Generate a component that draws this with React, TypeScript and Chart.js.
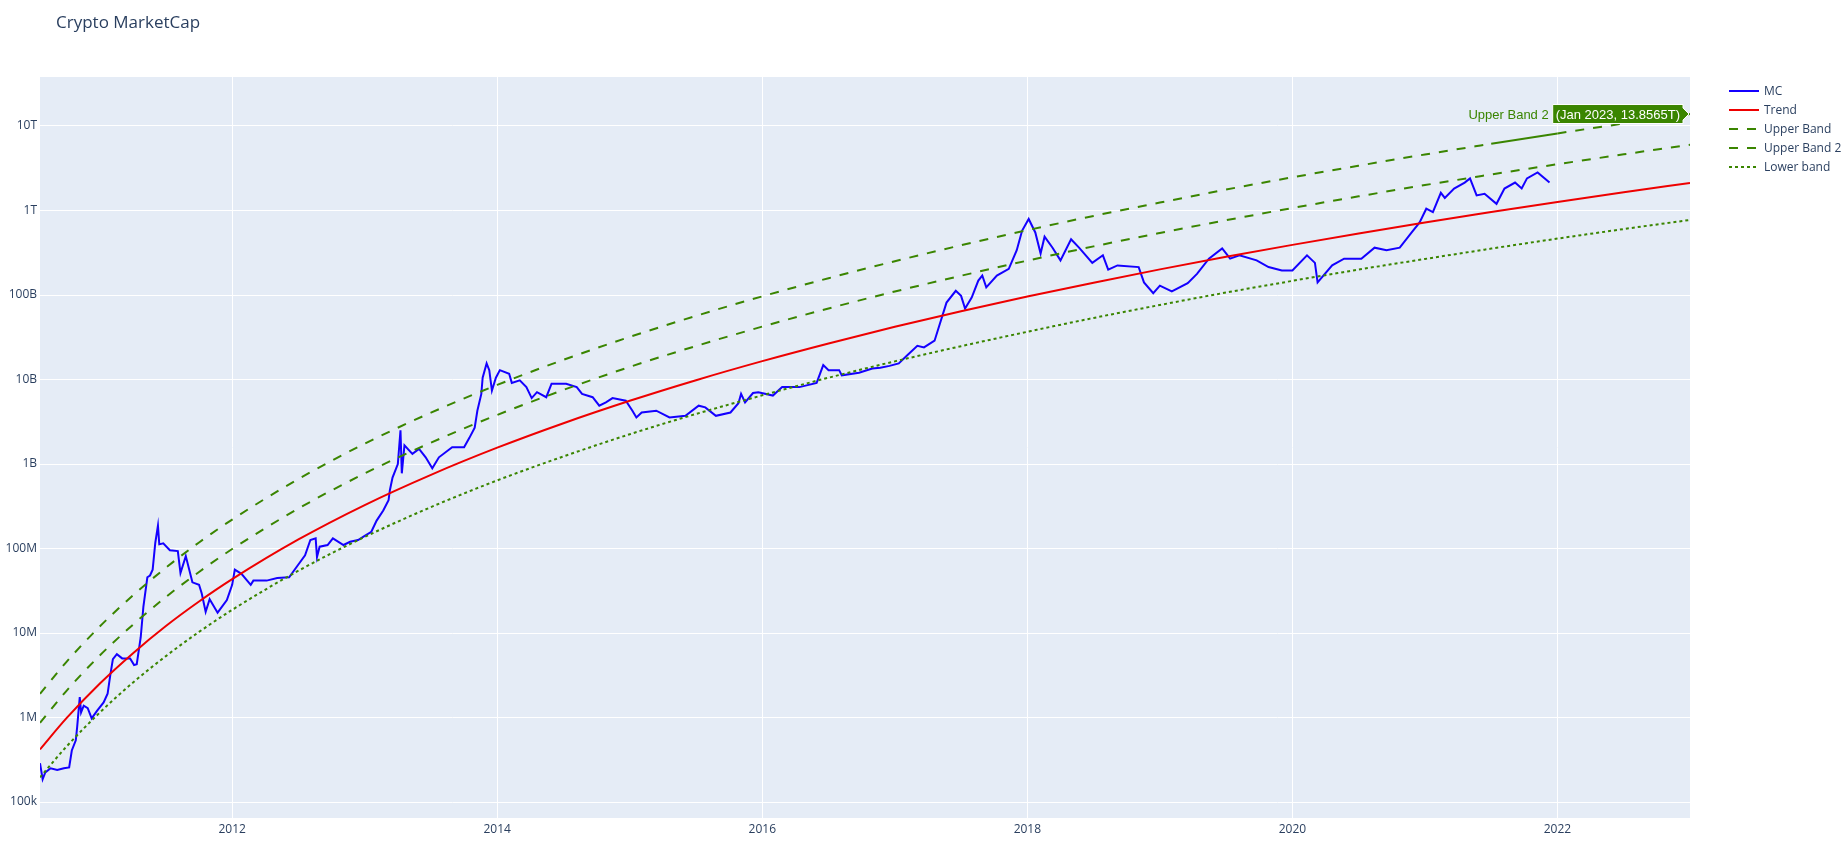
import { useEffect, useRef } from "react";
import { Chart, registerables } from "chart.js";

Chart.register(...registerables);

// total crypto market cap (decimal years)
const mcYears = [
  2010.55, 2010.57, 2010.59, 2010.63, 2010.68, 2010.73, 2010.77, 2010.79, 2010.82, 2010.83,
  2010.85, 2010.86, 2010.88, 2010.91, 2010.94, 2010.98, 2011.03, 2011.06, 2011.08, 2011.10,
  2011.13, 2011.17, 2011.23, 2011.26, 2011.28, 2011.31, 2011.33, 2011.36, 2011.38, 2011.40,
  2011.42, 2011.44, 2011.45, 2011.48, 2011.53, 2011.59, 2011.61, 2011.65, 2011.70, 2011.75,
  2011.77, 2011.80, 2011.83, 2011.89, 2011.96, 2012.00, 2012.02, 2012.07, 2012.14, 2012.16,
  2012.26, 2012.34, 2012.43, 2012.49, 2012.55, 2012.59, 2012.63, 2012.64, 2012.66, 2012.72,
  2012.76, 2012.84, 2012.89, 2012.95, 2013.00, 2013.05, 2013.09, 2013.14, 2013.18, 2013.19,
  2013.21, 2013.25, 2013.27, 2013.28, 2013.30, 2013.36, 2013.41, 2013.46, 2013.51, 2013.56,
  2013.66, 2013.75, 2013.79, 2013.83, 2013.85, 2013.88, 2013.89, 2013.92, 2013.94, 2013.96,
  2013.99, 2014.02, 2014.09, 2014.11, 2014.17, 2014.22, 2014.26, 2014.30, 2014.37, 2014.41,
  2014.52, 2014.60, 2014.64, 2014.72, 2014.77, 2014.82, 2014.87, 2014.97, 2015.02, 2015.05,
  2015.09, 2015.20, 2015.30, 2015.42, 2015.52, 2015.57, 2015.65, 2015.76, 2015.82, 2015.84,
  2015.87, 2015.93, 2015.97, 2016.08, 2016.15, 2016.28, 2016.41, 2016.46, 2016.50, 2016.58,
  2016.60, 2016.73, 2016.83, 2016.89, 2016.96, 2017.03, 2017.09, 2017.17, 2017.22, 2017.30,
  2017.34, 2017.39, 2017.46, 2017.50, 2017.53, 2017.58, 2017.63, 2017.66, 2017.69, 2017.77,
  2017.86, 2017.92, 2017.96, 2018.01, 2018.06, 2018.10, 2018.13, 2018.19, 2018.25, 2018.33,
  2018.39, 2018.49, 2018.57, 2018.61, 2018.68, 2018.84, 2018.88, 2018.95, 2019.00, 2019.09,
  2019.21, 2019.28, 2019.37, 2019.47, 2019.53, 2019.60, 2019.73, 2019.82, 2019.92, 2020.00,
  2020.11, 2020.17, 2020.19, 2020.30, 2020.39, 2020.52, 2020.62, 2020.71, 2020.81, 2020.90,
  2020.96, 2021.01, 2021.06, 2021.12, 2021.15, 2021.22, 2021.30, 2021.34, 2021.39, 2021.45,
  2021.54, 2021.60, 2021.68, 2021.73, 2021.77, 2021.85, 2021.94,
];
const mcValues = [
  2.88e5, 1.86e5, 2.24e5, 2.51e5, 2.4e5, 2.51e5, 2.57e5, 4.07e5, 5.37e5, 7.59e5,
  1.74e6, 1.15e6, 1.38e6, 1.29e6, 9.77e5, 1.2e6, 1.51e6, 1.91e6, 3.16e6, 4.9e6,
  5.62e6, 5.01e6, 5.01e6, 4.17e6, 4.27e6, 8.91e6, 2.04e7, 4.57e7, 4.79e7, 5.62e7,
  1.17e8, 1.86e8, 1.12e8, 1.15e8, 9.55e7, 9.33e7, 5.13e7, 8.13e7, 3.98e7, 3.72e7,
  2.95e7, 1.78e7, 2.51e7, 1.74e7, 2.45e7, 3.72e7, 5.62e7, 5.01e7, 3.72e7, 4.17e7,
  4.17e7, 4.47e7, 4.57e7, 6.17e7, 8.32e7, 1.26e8, 1.32e8, 7.94e7, 1.05e8, 1.1e8,
  1.32e8, 1.1e8, 1.2e8, 1.26e8, 1.41e8, 1.58e8, 2.14e8, 2.82e8, 3.72e8, 4.9e8,
  6.92e8, 1.0e9, 2.51e9, 7.76e8, 1.66e9, 1.32e9, 1.51e9, 1.2e9, 8.91e8, 1.2e9,
  1.58e9, 1.58e9, 2.04e9, 2.69e9, 4.27e9, 6.76e9, 1.05e10, 1.55e10, 1.29e10, 7.41e9,
  1.05e10, 1.29e10, 1.17e10, 9.12e9, 9.77e9, 8.13e9, 6.03e9, 7.08e9, 6.17e9, 8.91e9,
  8.91e9, 8.13e9, 6.76e9, 6.17e9, 4.9e9, 5.37e9, 6.03e9, 5.62e9, 4.27e9, 3.55e9,
  4.07e9, 4.27e9, 3.55e9, 3.72e9, 4.9e9, 4.68e9, 3.72e9, 4.07e9, 5.25e9, 6.76e9,
  5.37e9, 6.92e9, 7.08e9, 6.46e9, 8.13e9, 8.13e9, 9.12e9, 1.48e10, 1.29e10, 1.29e10,
  1.12e10, 1.2e10, 1.35e10, 1.38e10, 1.45e10, 1.55e10, 1.91e10, 2.51e10, 2.4e10, 2.88e10,
  4.57e10, 8.13e10, 1.12e11, 9.77e10, 6.92e10, 9.33e10, 1.48e11, 1.7e11, 1.23e11, 1.7e11,
  2.04e11, 3.39e11, 5.75e11, 7.94e11, 5.5e11, 3.09e11, 4.9e11, 3.63e11, 2.57e11, 4.57e11,
  3.63e11, 2.4e11, 2.95e11, 2.0e11, 2.24e11, 2.14e11, 1.41e11, 1.05e11, 1.29e11, 1.1e11,
  1.38e11, 1.78e11, 2.69e11, 3.55e11, 2.69e11, 2.95e11, 2.57e11, 2.14e11, 1.95e11, 1.95e11,
  2.95e11, 2.4e11, 1.41e11, 2.24e11, 2.69e11, 2.69e11, 3.63e11, 3.39e11, 3.63e11, 5.5e11,
  7.24e11, 1.05e12, 9.55e11, 1.62e12, 1.41e12, 1.82e12, 2.14e12, 2.4e12, 1.51e12, 1.58e12,
  1.2e12, 1.82e12, 2.14e12, 1.82e12, 2.4e12, 2.82e12, 2.14e12,
];

// trend and bands, sampled along the curves
const bandYears = [
  2010.55, 2010.75, 2011.0, 2011.25, 2011.5, 2011.75, 2012.0, 2012.5, 2013.0, 2013.5,
  2014.0, 2014.5, 2015.0, 2015.5, 2016.0, 2016.5, 2017.0, 2017.5, 2018.0, 2018.5,
  2019.0, 2019.5, 2020.0, 2020.5, 2021.0, 2021.38, 2021.5, 2022.0, 2022.5, 2023.0,
];
const trendValues = [
  4.19e5, 9.82e5, 2.51e6, 5.74e6, 1.21e7, 2.36e7, 4.34e7, 1.28e8, 3.27e8, 7.45e8,
  1.56e9, 3.04e9, 5.6e9, 9.82e9, 1.65e10, 2.67e10, 4.21e10, 6.43e10, 9.59e10, 1.4e11,
  2.01e11, 2.83e11, 3.92e11, 5.35e11, 7.21e11, 8.95e11, 9.57e11, 1.26e12, 1.64e12, 2.12e12,
];
const upperBandValues = [
  8.67e5, 2.07e6, 5.4e6, 1.25e7, 2.67e7, 5.28e7, 9.86e7, 2.97e8, 7.73e8, 1.79e9,
  3.81e9, 7.53e9, 1.41e10, 2.49e10, 4.23e10, 6.93e10, 1.1e11, 1.69e11, 2.55e11, 3.76e11,
  5.42e11, 7.67e11, 1.07e12, 1.47e12, 2.0e12, 2.49e12, 2.67e12, 3.53e12, 4.62e12, 6.0e12,
];
const upperBand2Values = [
  1.91e6, 4.56e6, 1.19e7, 2.78e7, 5.93e7, 1.18e8, 2.2e8, 6.65e8, 1.74e9, 4.05e9,
  8.63e9, 1.71e10, 3.19e10, 5.66e10, 9.64e10, 1.58e11, 2.51e11, 3.88e11, 5.85e11, 8.63e11,
  1.24e12, 1.77e12, 2.47e12, 3.39e12, 4.6e12, 5.75e12, 6.17e12, 8.17e12, 1.07e13, 1.38565e13,
];
const lowerBandValues = [
  1.96e5, 4.53e5, 1.14e6, 2.58e6, 5.33e6, 1.03e7, 1.88e7, 5.46e7, 1.37e8, 3.09e8,
  6.4e8, 1.23e9, 2.25e9, 3.91e9, 6.5e9, 1.05e10, 1.64e10, 2.48e10, 3.67e10, 5.35e10,
  7.62e10, 1.07e11, 1.47e11, 2.0e11, 2.67e11, 3.31e11, 3.54e11, 4.65e11, 6.03e11, 7.73e11,
];

const xTickYears = [2012, 2014, 2016, 2018, 2020, 2022];
const yTickValues = [1e5, 1e6, 1e7, 1e8, 1e9, 1e10, 1e11, 1e12, 1e13];
const yTickLabels = ["100k", "1M", "10M", "100M", "1B", "10B", "100B", "1T", "10T"];

const hoverName = "Upper Band 2";
const hoverText = "(Jan 2023, 13.8565T)";

const GREEN = "#3a8500";
const TEXT = "#2a3f5f";
const FONT = "'Open Sans', sans-serif";

const pts = (xs: number[], ys: number[]) => xs.map((x, i) => ({ x, y: ys[i] }));

const plotBackground = {
  id: "plotBackground",
  beforeDraw(chart: any) {
    const { ctx, chartArea: a } = chart;
    ctx.save();
    ctx.fillStyle = "#e5ecf6";
    ctx.fillRect(a.left, a.top, a.right - a.left, a.bottom - a.top);
    ctx.restore();
  },
};

// plotly-like hover label on the last point of Upper Band 2
const hoverLabel = {
  id: "hoverLabel",
  afterDatasetsDraw(chart: any) {
    const { ctx } = chart;
    const meta = chart.getDatasetMeta(3);
    const pt = meta.data[meta.data.length - 1];
    if (!pt) return;
    const px = pt.x - 1;
    const py = pt.y;
    ctx.save();
    ctx.font = "13px Arial, 'Liberation Sans', sans-serif";
    const tw = ctx.measureText(hoverText).width;
    const arrow = 6;
    const h = 19;
    const right = px - arrow;
    const left = right - tw - 6;
    ctx.beginPath();
    ctx.moveTo(px, py);
    ctx.lineTo(right, py - arrow);
    ctx.lineTo(right, py - h / 2);
    ctx.lineTo(left, py - h / 2);
    ctx.lineTo(left, py + h / 2);
    ctx.lineTo(right, py + h / 2);
    ctx.lineTo(right, py + arrow);
    ctx.closePath();
    ctx.fillStyle = GREEN;
    ctx.fill();
    ctx.strokeStyle = "#ffffff";
    ctx.lineWidth = 1;
    ctx.stroke();
    ctx.textBaseline = "middle";
    ctx.fillStyle = "#ffffff";
    ctx.textAlign = "left";
    ctx.fillText(hoverText, left + 3, py + 1);
    ctx.fillStyle = GREEN;
    ctx.textAlign = "right";
    ctx.fillText(hoverName, left - 4, py + 1);
    ctx.restore();
  },
};

// title and legend drawn the plotly way
const titleAndLegend = {
  id: "titleAndLegend",
  afterDraw(chart: any) {
    const { ctx, chartArea: a } = chart;
    ctx.save();
    ctx.fillStyle = TEXT;
    ctx.font = `17px ${FONT}`;
    ctx.textBaseline = "alphabetic";
    ctx.fillText("Crypto MarketCap", 56, 28);

    ctx.font = `12px ${FONT}`;
    ctx.textBaseline = "middle";
    chart.data.datasets.forEach((ds: any, i: number) => {
      const y = a.top + 14 + i * 19;
      const x0 = a.right + 39;
      ctx.beginPath();
      ctx.setLineDash(ds.borderDash || []);
      ctx.strokeStyle = ds.borderColor;
      ctx.lineWidth = 2;
      ctx.moveTo(x0, y);
      ctx.lineTo(x0 + 30, y);
      ctx.stroke();
      ctx.setLineDash([]);
      ctx.fillStyle = TEXT;
      ctx.fillText(ds.label, x0 + 35, y + 1);
    });
    ctx.restore();
  },
};

export default function App() {
  const canvasRef = useRef<HTMLCanvasElement>(null);

  useEffect(() => {
    document.body.style.margin = "0";
    if (!canvasRef.current) return;

    const chart = new Chart(canvasRef.current, {
      type: "line",
      data: {
        datasets: [
          {
            label: "MC",
            data: pts(mcYears, mcValues),
            borderColor: "#1400ff",
            borderWidth: 2,
            pointRadius: 0,
            tension: 0,
            order: 4,
          },
          {
            label: "Trend",
            data: pts(bandYears, trendValues),
            borderColor: "#ee0000",
            borderWidth: 2,
            pointRadius: 0,
            cubicInterpolationMode: "monotone",
            order: 3,
          },
          {
            label: "Upper Band",
            data: pts(bandYears, upperBandValues),
            borderColor: GREEN,
            borderWidth: 2,
            borderDash: [9, 9],
            pointRadius: 0,
            cubicInterpolationMode: "monotone",
            order: 2,
          },
          {
            label: "Upper Band 2",
            data: pts(bandYears, upperBand2Values),
            borderColor: GREEN,
            borderWidth: 2,
            borderDash: [9, 9],
            pointRadius: 0,
            cubicInterpolationMode: "monotone",
            order: 1,
            segment: {
              borderDash: (c: any) =>
                c.p0.parsed.x >= 2021.5 && c.p1.parsed.x <= 2022.0 ? [] : undefined,
            },
          },
          {
            label: "Lower band",
            data: pts(bandYears, lowerBandValues),
            borderColor: GREEN,
            borderWidth: 2,
            borderDash: [3, 3],
            pointRadius: 0,
            cubicInterpolationMode: "monotone",
            order: 0,
          },
        ] as any,
      },
      options: {
        animation: false,
        responsive: true,
        maintainAspectRatio: false,
        events: [],
        layout: { padding: { top: 77, right: 158, left: 0, bottom: 0 } },
        plugins: {
          legend: { display: false },
          tooltip: { enabled: false },
          title: { display: false },
        },
        scales: {
          x: {
            type: "linear",
            min: 2010.55,
            max: 2023.0,
            afterBuildTicks: (scale: any) => {
              scale.ticks = xTickYears.map((v) => ({ value: v }));
            },
            afterFit: (scale: any) => {
              scale.height = 35;
            },
            ticks: {
              autoSkip: false,
              maxRotation: 0,
              padding: 4,
              color: TEXT,
              font: { family: FONT, size: 12 },
              callback: (v: any) => String(v),
            },
            grid: { color: "#ffffff", lineWidth: 1, drawTicks: false },
            border: { display: false },
          },
          y: {
            type: "logarithmic",
            min: 6.47e4,
            max: 3.8e13,
            afterBuildTicks: (scale: any) => {
              scale.ticks = yTickValues.map((v) => ({ value: v, major: true }));
            },
            afterFit: (scale: any) => {
              scale.width = 40;
            },
            ticks: {
              autoSkip: false,
              padding: 3,
              color: TEXT,
              font: { family: FONT, size: 12 },
              callback: (_v: any, i: number) => yTickLabels[i],
            },
            grid: { color: "#ffffff", lineWidth: 1, drawTicks: false },
            border: { display: false },
          },
        },
      },
      plugins: [plotBackground, hoverLabel, titleAndLegend],
    });

    return () => chart.destroy();
  }, []);

  return (
    <div style={{ position: "fixed", left: 0, top: 0, width: "1848px", height: "853px", background: "#fff" }}>
      <canvas ref={canvasRef} />
    </div>
  );
}
